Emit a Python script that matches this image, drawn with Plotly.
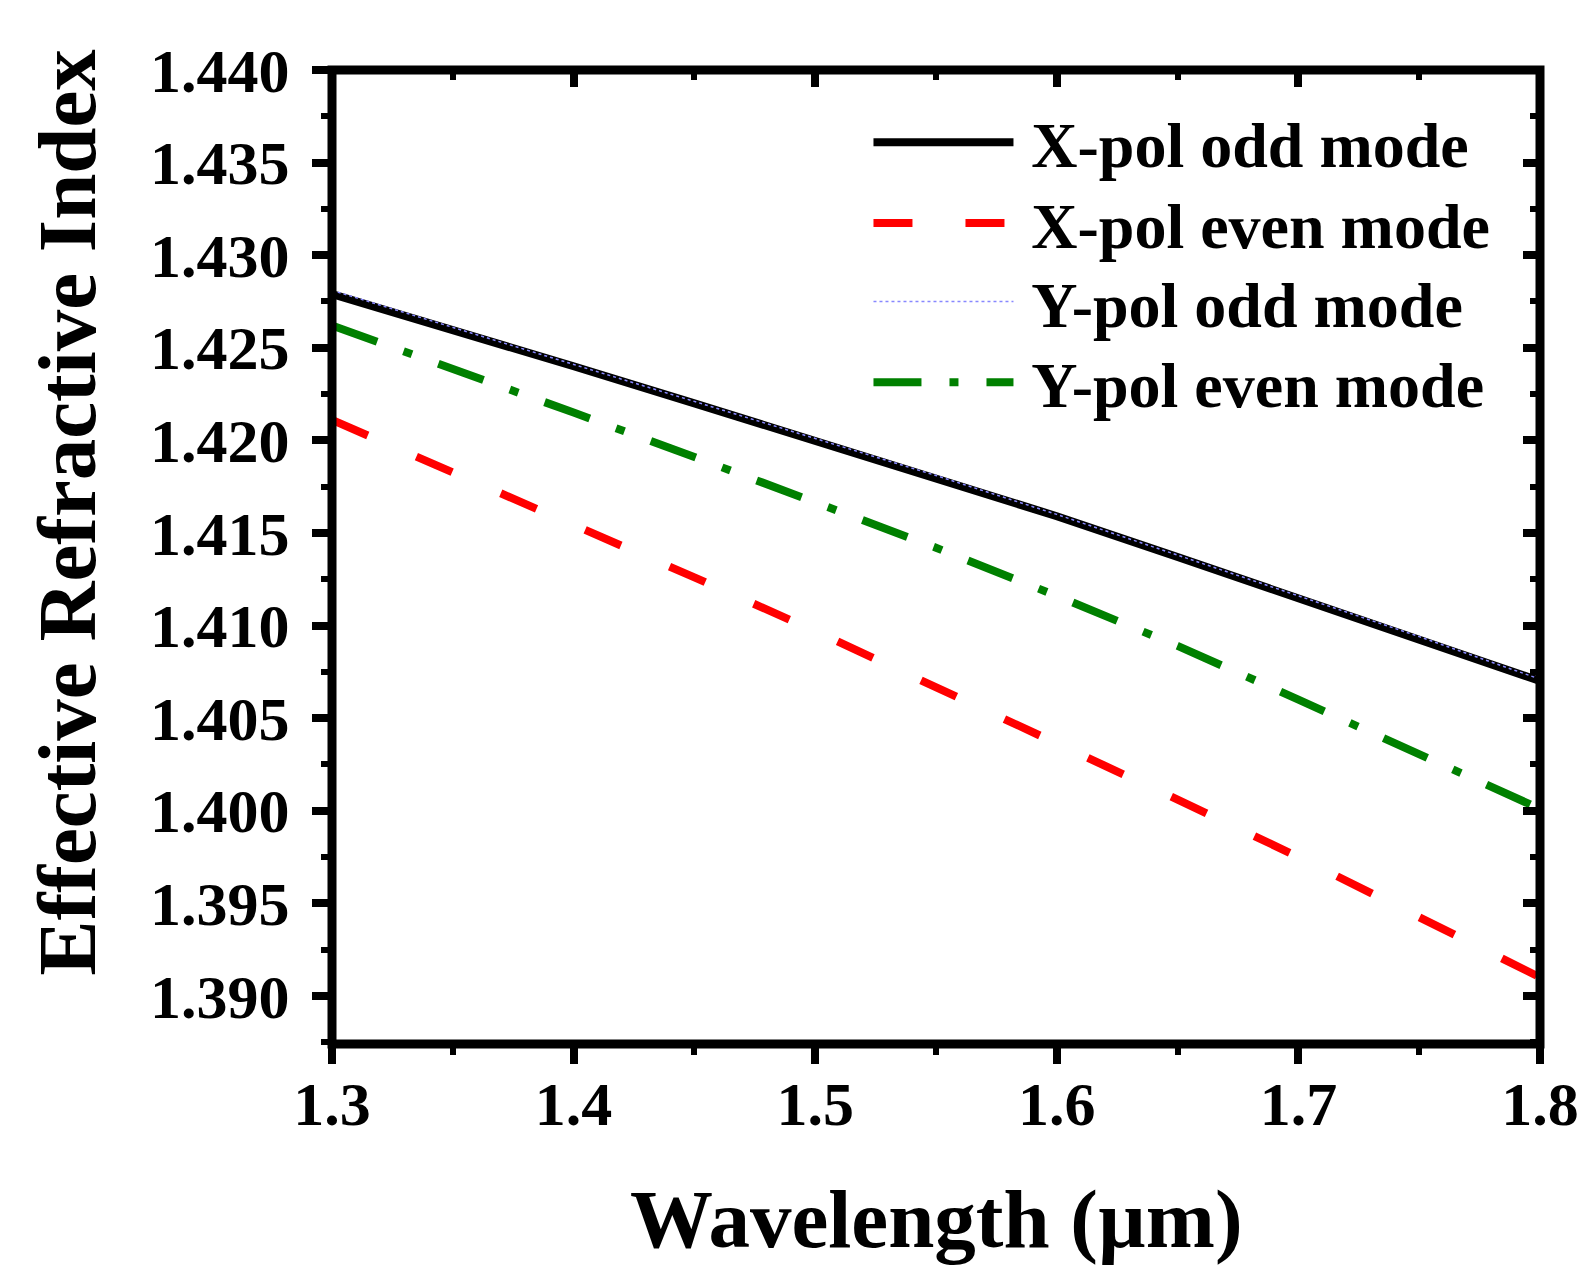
import plotly.graph_objects as go

wavelength = [1.30, 1.35, 1.40, 1.45, 1.50, 1.55, 1.60, 1.65, 1.70, 1.75, 1.80]
x_odd = [1.4279, 1.4260, 1.4240, 1.4220, 1.4200, 1.4180, 1.4159, 1.4137, 1.4115, 1.4093, 1.4070]
x_even = [1.4211, 1.4183, 1.4155, 1.4126, 1.4097, 1.4067, 1.4037, 1.4006, 1.3975, 1.3943, 1.3910]
y_odd = [1.4281, 1.4261, 1.4241, 1.4221, 1.4201, 1.4181, 1.4160, 1.4138, 1.4116, 1.4094, 1.4071]
y_even = [1.4262, 1.4239, 1.4215, 1.4191, 1.4167, 1.4142, 1.4116, 1.4089, 1.4060, 1.4031, 1.4001]

names = ["X-pol odd mode", "X-pol even mode", "Y-pol odd mode", "Y-pol even mode"]
x_ticks = [1.3, 1.4, 1.5, 1.6, 1.7, 1.8]
y_ticks = [1.390, 1.395, 1.400, 1.405, 1.410, 1.415, 1.420, 1.425, 1.430, 1.435, 1.440]

FONT = "Liberation Serif"
XR = [1.3, 1.8]
YR = [1.3874, 1.440]
LEAD = "\u2009"  # small gap between legend sample and its label

styles = [
    dict(color="black", width=8),
    dict(color="#ff0000", width=8, dash="39px,53px"),
    dict(color="#8888ff", width=1.5, dash="dot"),
    dict(color="#008000", width=8, dash="48px,28px,9px,28px"),
]
series = [x_odd, x_even, y_odd, y_even]
legend_ids = ["legend", "legend2", "legend3", "legend4"]
legend_y = [0.9255, 0.8426, 0.7618, 0.6790]

fig = go.Figure()
for nm, ys, st, lg in zip(names, series, styles, legend_ids):
    fig.add_trace(go.Scatter(x=wavelength, y=ys, name=LEAD + nm, mode="lines",
                             line=st, legend=lg))

tickfont = dict(family=FONT, size=62, color="black", weight="bold")
legfont = dict(family=FONT, size=64, color="black", weight="bold")

layout_legends = {}
for lg, ly in zip(legend_ids, legend_y):
    layout_legends[lg] = dict(x=0.4441, y=ly, xanchor="left", yanchor="middle",
                              font=legfont, itemwidth=140, bgcolor="rgba(0,0,0,0)")

common = dict(showgrid=False, zeroline=False, showline=False, automargin=False)

fig.update_layout(
    width=1582, height=1267,
    margin=dict(l=332, r=42, t=70, b=223, autoexpand=False),
    paper_bgcolor="white", plot_bgcolor="white",
    showlegend=True,
    **layout_legends,
    xaxis=dict(range=XR, tickvals=x_ticks, ticktext=[f"{v:.1f}" for v in x_ticks],
               ticks="outside", ticklen=19, tickwidth=8, tickcolor="black",
               minor=dict(dtick=0.05, ticks="outside", ticklen=10, tickwidth=6, tickcolor="black"),
               tickfont=tickfont, ticklabelstandoff=-13, ticklabeloverflow="allow", **common),
    yaxis=dict(range=YR, tickvals=y_ticks, ticktext=[f"{v:.3f}" for v in y_ticks],
               ticks="outside", ticklen=19, tickwidth=8, tickcolor="black",
               minor=dict(dtick=0.0025, tick0=1.390, ticks="outside", ticklen=10, tickwidth=6, tickcolor="black"),
               tickfont=tickfont, ticklabelstandoff=10, **common),
    xaxis2=dict(range=XR, overlaying="x", side="top", tickvals=x_ticks, showticklabels=False,
                ticks="inside", ticklen=17, tickwidth=8, tickcolor="black",
                minor=dict(dtick=0.05, ticks="inside", ticklen=10, tickwidth=6, tickcolor="black"),
                **common),
    yaxis2=dict(range=YR, overlaying="y", side="right", tickvals=y_ticks, showticklabels=False,
                ticks="inside", ticklen=17, tickwidth=8, tickcolor="black",
                minor=dict(dtick=0.0025, tick0=1.390, ticks="inside", ticklen=10, tickwidth=6, tickcolor="black"),
                **common),
    shapes=[dict(type="rect", xref="paper", yref="paper", x0=0, x1=1, y0=0, y1=1,
                 line=dict(color="black", width=9), layer="above")],
    annotations=[
        dict(text="Wavelength (µm)", xref="paper", yref="paper", x=0.5, y=-0.18,
             xanchor="center", yanchor="middle", showarrow=False,
             font=dict(family=FONT, size=83, color="black", weight="bold")),
        dict(text="Effective Refractive Index", xref="paper", yref="paper", x=-0.219, y=0.546,
             xanchor="center", yanchor="middle", showarrow=False, textangle=-90,
             font=dict(family=FONT, size=83, color="black", weight="bold")),
    ],
)
# invisible trace so the mirrored top/right tick axes are drawn
fig.add_trace(go.Scatter(x=[None], y=[None], xaxis="x2", yaxis="y2", showlegend=False, hoverinfo="skip"))

fig.write_html("out.html", config={"displayModeBar": False},
               post_script="document.body.style.margin='0';")
